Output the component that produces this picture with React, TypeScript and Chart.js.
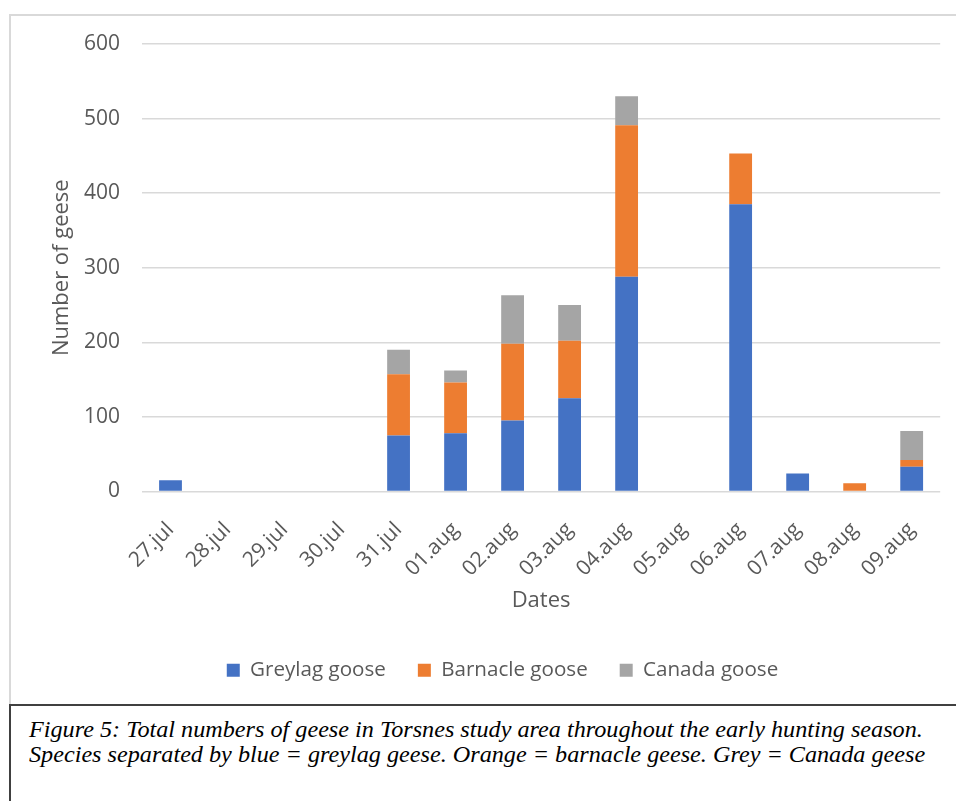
import React, { useEffect, useRef } from "react";
import { Chart, registerables } from "chart.js";

Chart.register(...registerables);

const dates = ["27.jul", "28.jul", "29.jul", "30.jul", "31.jul", "01.aug", "02.aug", "03.aug", "04.aug", "05.aug", "06.aug", "07.aug", "08.aug", "09.aug"];
const greylag = [15, 0, 0, 0, 75, 78, 95, 125, 288, 0, 385, 24, 0, 33];
const barnacle = [0, 0, 0, 0, 82, 68, 103, 77, 203, 0, 68, 0, 11, 9];
const canada = [0, 0, 0, 0, 33, 16, 65, 48, 39, 0, 0, 0, 0, 39];
const seriesNames = ["Greylag goose", "Barnacle goose", "Canada goose"];
const seriesColors = ["#4472C4", "#ED7D31", "#A5A5A5"];
const yTitle = "Number of geese";
const xTitle = "Dates";
const captionLines = [
  "Figure 5: Total numbers of geese in Torsnes study area throughout the early hunting season.",
  "Species separated by blue = greylag geese. Orange = barnacle geese. Grey = Canada geese",
];

const FONT = "'Open Sans', sans-serif";
const TEXT = "#595959";

export default function App() {
  const ref = useRef<HTMLCanvasElement | null>(null);

  useEffect(() => {
    if (!ref.current) return;
    const values = [greylag, barnacle, canada];
    const chart = new Chart(ref.current, {
      type: "bar",
      data: {
        labels: dates,
        datasets: seriesNames.map((name, i) => ({
          label: name,
          data: values[i],
          backgroundColor: seriesColors[i],
          borderWidth: 0,
          barPercentage: 0.4,
          categoryPercentage: 1,
        })),
      },
      options: {
        animation: false,
        responsive: false,
        maintainAspectRatio: false,
        layout: { padding: { left: 63, right: 14, top: 44, bottom: 14.5 } },
        plugins: {
          tooltip: { enabled: false },
          legend: {
            position: "bottom",
            labels: {
              boxWidth: 13,
              boxHeight: 13,
              padding: 32,
              color: TEXT,
              font: { family: FONT, size: 20.6 },
            },
          },
        },
        scales: {
          x: {
            stacked: true,
            grid: { display: false, drawTicks: false },
            border: { display: false },
            ticks: {
              color: TEXT,
              font: { family: FONT, size: 21 },
              minRotation: 45,
              maxRotation: 45,
              autoSkip: false,
              padding: 26,
            },
            title: {
              display: true,
              text: xTitle,
              color: TEXT,
              font: { family: FONT, size: 22 },
              padding: { top: 0, bottom: 13.5 },
            },
            afterFit: (scale: any) => {
              scale.height = 136.5;
            },
          },
          y: {
            stacked: true,
            min: 0,
            max: 600,
            grid: { color: "#d9d9d9", lineWidth: 1.5, drawTicks: false },
            border: { display: false },
            ticks: {
              stepSize: 100,
              color: TEXT,
              font: { family: FONT, size: 21 },
              padding: 22,
            },
            title: {
              display: true,
              text: yTitle,
              color: TEXT,
              font: { family: FONT, size: 22 },
              padding: { top: -14.5, bottom: 0 },
            },
            afterFit: (scale: any) => {
              scale.width = 79;
            },
          },
        },
      },
    });
    return () => chart.destroy();
  }, []);

  return (
    <div style={{ position: "fixed", left: 0, top: 0, width: 956, height: 801, overflow: "hidden", background: "#fff" }}>
      <div style={{ position: "absolute", left: 9, top: 14, width: 1000, height: 700, border: "2px solid #d9d9d9", boxSizing: "border-box" }} />
      <canvas ref={ref} width={956} height={705} style={{ position: "absolute", left: 0, top: 0, width: 956, height: 705 }} />
      <div
        style={{
          position: "absolute",
          left: 9,
          top: 704,
          width: 1000,
          height: 150,
          border: "2px solid #404040",
          boxSizing: "border-box",
          background: "#fff",
          paddingLeft: 18,
          paddingTop: 11,
          fontFamily: "'Liberation Serif', 'Times New Roman', serif",
          fontStyle: "italic",
          fontSize: 22.5,
          lineHeight: "25px",
          color: "#000",
        }}
      >
        {captionLines.map((l, i) => (
          <div key={i} style={{ whiteSpace: "nowrap", transform: "scaleX(1.075)", transformOrigin: "left center" }}>{l}</div>
        ))}
      </div>
    </div>
  );
}
